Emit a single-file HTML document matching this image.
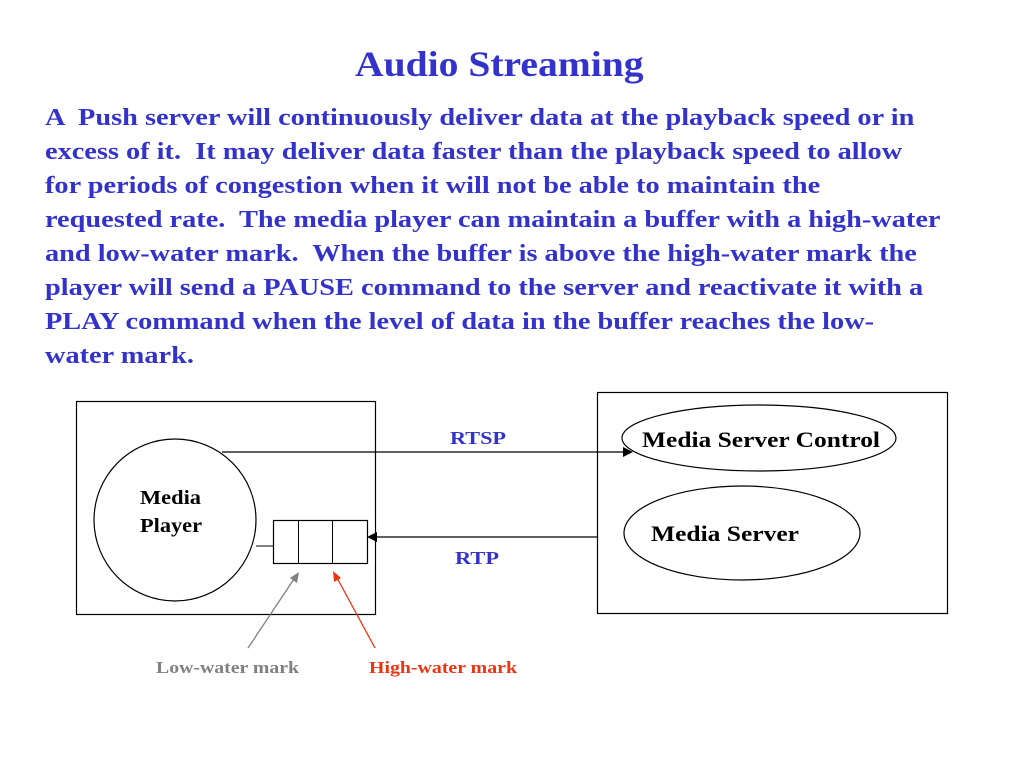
<!DOCTYPE html>
<html><head><style>
body{margin:0;width:1024px;height:768px;background:#fff;overflow:hidden;position:relative;font-family:"Liberation Serif","Times New Roman",serif;}
.t{position:absolute;font-weight:bold;white-space:nowrap}
#title{left:355px;top:43px;font-size:36px;color:#3333cc;transform:scaleX(1.1);transform-origin:0 0}
#p{position:absolute;left:45px;top:101px;font-size:24px;line-height:34px;color:#3333cc;font-weight:bold;white-space:pre;transform:scaleX(1.18);transform-origin:0 0}
</style></head><body>
<div class="t" id="title">Audio Streaming</div>
<div id="p">A  Push server will continuously deliver data at the playback speed or in
excess of it.  It may deliver data faster than the playback speed to allow
for periods of congestion when it will not be able to maintain the
requested rate.  The media player can maintain a buffer with a high-water
and low-water mark.  When the buffer is above the high-water mark the
player will send a PAUSE command to the server and reactivate it with a
PLAY command when the level of data in the buffer reaches the low-
water mark.</div>
<svg width="1024" height="768" style="position:absolute;left:0;top:0" font-family="Liberation Serif, serif" font-weight="bold">
<rect x="76.5" y="401.5" width="299" height="213" fill="none" stroke="#000" stroke-width="1.2"/>
<circle cx="175" cy="520" r="81" fill="none" stroke="#000" stroke-width="1.2"/>
<text x="140" y="504" font-size="20" textLength="61" lengthAdjust="spacingAndGlyphs">Media</text>
<text x="140" y="532" font-size="20" textLength="62" lengthAdjust="spacingAndGlyphs">Player</text>
<line x1="256" y1="546" x2="273" y2="546" stroke="#000"/>
<rect x="273.5" y="520.5" width="94" height="43" fill="none" stroke="#000" stroke-width="1.2"/>
<line x1="298.5" y1="520" x2="298.5" y2="563" stroke="#000"/>
<line x1="332.5" y1="520" x2="332.5" y2="563" stroke="#000"/>
<line x1="222" y1="452" x2="624" y2="452" stroke="#000" stroke-width="1.2"/>
<polygon points="633,452 623,447 623,457" fill="#000"/>
<line x1="376" y1="537" x2="597" y2="537" stroke="#000" stroke-width="1.2"/>
<polygon points="367,537 377,532 377,542" fill="#000"/>
<text x="450" y="444" font-size="18" fill="#3333cc" textLength="56" lengthAdjust="spacingAndGlyphs">RTSP</text>
<text x="455" y="564" font-size="18" fill="#3333cc" textLength="44" lengthAdjust="spacingAndGlyphs">RTP</text>
<rect x="597.5" y="392.5" width="350" height="221" fill="none" stroke="#000" stroke-width="1.2"/>
<ellipse cx="759" cy="438" rx="137" ry="33" fill="none" stroke="#000" stroke-width="1.2"/>
<text x="642" y="447" font-size="22" textLength="238" lengthAdjust="spacingAndGlyphs">Media Server Control</text>
<ellipse cx="742" cy="533" rx="118" ry="47" fill="none" stroke="#000" stroke-width="1.2"/>
<text x="651" y="541" font-size="22" textLength="148" lengthAdjust="spacingAndGlyphs">Media Server</text>
<line x1="248" y1="648" x2="296" y2="576" stroke="#808080" stroke-width="1.3"/>
<polygon points="299,572 290,578 297,583" fill="#808080"/>
<line x1="375" y1="648" x2="336" y2="576" stroke="#ee3311" stroke-width="1.3"/>
<polygon points="333,571 334,582 341,578" fill="#ee3311"/>
<text x="156" y="673" font-size="17" fill="#808080" textLength="143" lengthAdjust="spacingAndGlyphs">Low-water mark</text>
<text x="369" y="673" font-size="17" fill="#ee3311" textLength="148" lengthAdjust="spacingAndGlyphs">High-water mark</text>
</svg>
</body></html>
